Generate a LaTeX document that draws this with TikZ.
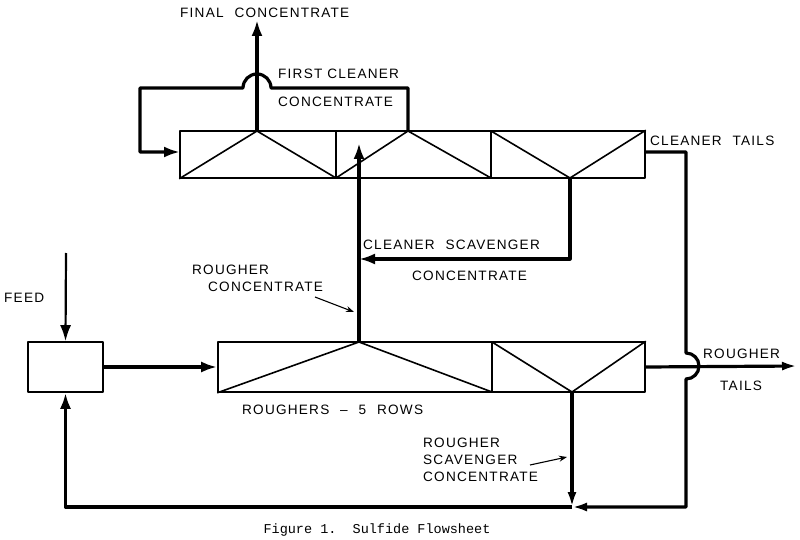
\documentclass[tikz,border=0pt]{standalone}
\usepackage{fontspec}
\setsansfont{Liberation Sans}
\setmonofont{Liberation Mono}
\usetikzlibrary{arrows.meta}
\newcommand{\wgap}{\hspace{0.8em}}

\begin{document}
\begin{tikzpicture}[x=1pt,y=-1pt,line join=round,
    lbl/.style={font=\sffamily\fontsize{13.6}{14}\selectfont\addfontfeature{LetterSpace=9},inner sep=0pt,anchor=west},
    bank/.style={line width=1.6pt},
    flow/.style={line width=3.2pt},
    tip/.style={-{Latex[length=16pt,width=11pt]}},
    otip/.style={-{Latex[open,length=15pt,width=9pt]}},
    ptr/.style={line width=1.1pt,-{Stealth[length=8pt,width=6pt]}}]
  \useasboundingbox (0,0) rectangle (800,540);
  \draw[bank]
    (65.5,367) node[draw,minimum width=75pt,minimum height=50pt] (box){}
    (412.5,154.5) node[draw,minimum width=465pt,minimum height=47pt] (cln){}
    (431.5,367) node[draw,minimum width=427pt,minimum height=50pt] (rgh){};
  \coordinate (c1) at (257,131);
  \coordinate (c2) at (408,131);
  \coordinate (c3) at (570,178);
  \coordinate (r1) at (359,342);
  \coordinate (r2) at (572,392);
  \coordinate (fin) at (257,20);
  \coordinate (cin) at (180,152);
  \coordinate (ctl) at (645,152);
  \coordinate (csc) at (359,259);
  \coordinate (rup) at (359,143);
  \coordinate (jn) at (572,507);
  \coordinate (fd) at (66,253);
  \coordinate (rtl) at (797,366);
  \begin{scope}[bank]
    \draw (336,131) -- (336,178) (491,131) -- (491,178) (492,342) -- (492,392);
    \draw (cln.south west) -- (c1) -- (336,178) -- (c2) -- (491,178);
    \draw (491,131) -- (c3) -- (cln.north east);
    \draw (rgh.south west) -- (r1) -- (492,392);
    \draw (492,342) -- (r2) -- (rgh.north east);
  \end{scope}
  \begin{scope}[flow]
    \draw[tip] (c1) -- (fin);
    \draw[tip] (c2) |- (271,88) arc[start angle=0,end angle=-180,radius=14] -- (140,88) |- (cin);
    \draw[tip] (c3) |- (csc);
    \draw[tip] (r1) -- (rup);
    \draw[tip] (box.east) -- (rgh.west);
    \draw[otip] (rgh.east) -- (rtl);
    \draw[otip] (r2) -- (jn);
    \draw[otip] (ctl) -| (686,353) arc[start angle=-90,end angle=90,radius=13] |- (jn);
    \draw[tip] (jn) -| (box.south);
    \draw[line width=2.2pt,tip] (fd) -- (box.north);
  \end{scope}
  \draw[ptr] (315,297) -- (354,312);
  \draw[ptr] (530,465) -- (567,457);
  \path
    (180,13) node[lbl] (t1){FINAL\wgap CONCENTRATE}
    (278,74) node[lbl] (t2){FIRST CLEANER}
    (278,102) node[lbl] (t3){CONCENTRATE}
    (650,141) node[lbl] (t4){CLEANER\wgap TAILS}
    (363,245) node[lbl] (t5){CLEANER\wgap SCAVENGER}
    (412,276) node[lbl] (t6){CONCENTRATE}
    (192,270) node[lbl] (t7){ROUGHER}
    (208,287) node[lbl] (t8){CONCENTRATE}
    (4,298) node[lbl] (t9){FEED}
    (242,410) node[lbl] (t10){ROUGHERS\wgap --\wgap 5\wgap ROWS}
    (703,354) node[lbl] (t11){ROUGHER}
    (720,386) node[lbl] (t12){TAILS}
    (423,443) node[lbl] (t13){ROUGHER}
    (423,460) node[lbl] (t14){SCAVENGER}
    (423,477) node[lbl] (t15){CONCENTRATE}
    (377,530) node[font=\ttfamily\fontsize{13.5}{14}\selectfont,inner sep=0pt] (cap){Figure 1.\ \ Sulfide Flowsheet};
\end{tikzpicture}
\end{document}
